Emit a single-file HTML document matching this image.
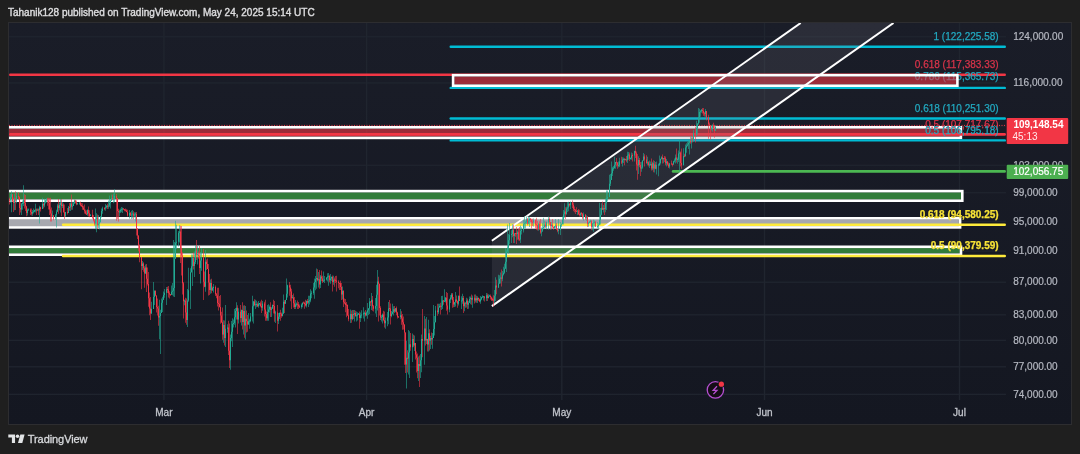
<!DOCTYPE html>
<html><head><meta charset="utf-8"><title>BTCUSD chart</title>
<style>html,body{margin:0;padding:0;background:#1f1f1f;overflow:hidden}svg{display:block}</style>
</head><body>
<svg width="1080" height="454" viewBox="0 0 1080 454">
<defs>
<linearGradient id="bg" x1="0" y1="0" x2="0" y2="1">
<stop offset="0" stop-color="#1a1d28"/><stop offset="1" stop-color="#141721"/>
</linearGradient>
<clipPath id="plot"><rect x="9" y="23" width="997" height="377"/></clipPath>
<clipPath id="chart"><rect x="9" y="23" width="1062" height="400"/></clipPath>
</defs>
<rect x="0" y="0" width="1080" height="454" fill="#1f1f1f"/>
<rect x="8.5" y="22.5" width="1063" height="402" fill="url(#bg)" stroke="#2d2d30" stroke-width="1"/>
<g fill="#20252f">
<rect x="9" y="36.10" width="997" height="1.3"/>
<rect x="9" y="82.30" width="997" height="1.3"/>
<rect x="9" y="125.41" width="997" height="1.3"/>
<rect x="9" y="164.63" width="997" height="1.3"/>
<rect x="9" y="192.07" width="997" height="1.3"/>
<rect x="9" y="220.64" width="997" height="1.3"/>
<rect x="9" y="250.44" width="997" height="1.3"/>
<rect x="9" y="281.57" width="997" height="1.3"/>
<rect x="9" y="314.18" width="997" height="1.3"/>
<rect x="9" y="339.68" width="997" height="1.3"/>
<rect x="9" y="366.15" width="997" height="1.3"/>
<rect x="9" y="393.68" width="997" height="1.3"/>
<rect x="163.20" y="23" width="1.4" height="377"/>
<rect x="365.90" y="23" width="1.4" height="377"/>
<rect x="561.10" y="23" width="1.4" height="377"/>
<rect x="763.80" y="23" width="1.4" height="377"/>
<rect x="958.80" y="23" width="1.4" height="377"/>
</g>
<g clip-path="url(#plot)">
<rect x="7.60" y="128.60" width="952.00" height="8.00" fill="rgba(242,54,69,0.6)"/>
<rect x="6.30" y="127.30" width="954.60" height="10.60" fill="none" stroke="#ffffff" stroke-width="2.6"/>
<line x1="10.20" y1="74.7" x2="1004.80" y2="74.7" stroke="#f23645" stroke-width="2.4" stroke-linecap="round"/>
<line x1="10.40" y1="134.4" x2="1004.60" y2="134.4" stroke="#f23645" stroke-width="2.8" stroke-linecap="round"/>
<line x1="450.70" y1="46.8" x2="1004.80" y2="46.8" stroke="#00bcd4" stroke-width="2.4" stroke-linecap="round"/>
<line x1="450.70" y1="87.9" x2="1004.80" y2="87.9" stroke="#00bcd4" stroke-width="2.4" stroke-linecap="round"/>
<line x1="450.70" y1="118.5" x2="1004.80" y2="118.5" stroke="#00bcd4" stroke-width="2.4" stroke-linecap="round"/>
<line x1="450.70" y1="140.4" x2="1004.80" y2="140.4" stroke="#00bcd4" stroke-width="2.4" stroke-linecap="round"/>
<text x="998.6" y="39.8" fill="#22a9c0" stroke="#22a9c0" stroke-width="0.25" text-anchor="end" font-family="Liberation Sans, sans-serif" font-size="10" font-weight="400">1 (122,225.58)</text>
<text x="998.6" y="67.5" fill="#d9344a" stroke="#d9344a" stroke-width="0.25" text-anchor="end" font-family="Liberation Sans, sans-serif" font-size="10" font-weight="400">0.618 (117,383.33)</text>
<text x="998.6" y="80.3" fill="#22a9c0" stroke="#22a9c0" stroke-width="0.25" text-anchor="end" font-family="Liberation Sans, sans-serif" font-size="10" font-weight="400">0.786 (115,365.73)</text>
<text x="998.6" y="111.6" fill="#22a9c0" stroke="#22a9c0" stroke-width="0.25" text-anchor="end" font-family="Liberation Sans, sans-serif" font-size="10" font-weight="400">0.618 (110,251.30)</text>
<text x="998.6" y="127.6" fill="#d9344a" stroke="#d9344a" stroke-width="0.25" text-anchor="end" font-family="Liberation Sans, sans-serif" font-size="10" font-weight="400">0.5 (107,717.67)</text>
<text x="998.6" y="133.6" fill="#22a9c0" stroke="#22a9c0" stroke-width="0.25" text-anchor="end" font-family="Liberation Sans, sans-serif" font-size="10" font-weight="400">0.5 (106,795.18)</text>
<rect x="454.40" y="76.50" width="501.70" height="7.90" fill="rgba(242,54,69,0.6)"/>
<rect x="7.60" y="192.40" width="953.40" height="7.00" fill="#327c3a"/>
<rect x="7.60" y="219.60" width="951.20" height="6.50" fill="#a7a8af"/>
<rect x="7.60" y="248.10" width="952.10" height="5.30" fill="#327c3a"/>
</g>
<g clip-path="url(#plot)">
<polygon points="491.9,240.7 800.7,23 893.5,23 491.9,306.1" fill="rgba(120,123,134,0.18)"/>
<rect x="453.10" y="75.20" width="504.30" height="10.50" fill="none" stroke="#ffffff" stroke-width="2.6"/>
<rect x="6.30" y="191.10" width="956.00" height="9.60" fill="none" stroke="#ffffff" stroke-width="2.6"/>
<rect x="6.30" y="218.30" width="953.80" height="9.10" fill="none" stroke="#ffffff" stroke-width="2.6"/>
<rect x="6.30" y="246.80" width="954.70" height="7.90" fill="none" stroke="#ffffff" stroke-width="2.6"/>
<line x1="63.10" y1="224.7" x2="1004.70" y2="224.7" stroke="#ffeb3b" stroke-width="2.6" stroke-linecap="round"/>
<line x1="63.00" y1="256.0" x2="1004.80" y2="256.0" stroke="#ffeb3b" stroke-width="2.4" stroke-linecap="round"/>
<text x="998.6" y="218.3" fill="#f7e236" stroke="#f7e236" stroke-width="0.25" text-anchor="end" font-family="Liberation Sans, sans-serif" font-size="10" font-weight="700">0.618 (94,580.25)</text>
<text x="998.6" y="249.3" fill="#f7e236" stroke="#f7e236" stroke-width="0.25" text-anchor="end" font-family="Liberation Sans, sans-serif" font-size="10" font-weight="700">0.5 (90,379.59)</text>
<line x1="9" y1="125.4" x2="1006" y2="125.4" stroke="#f23645" stroke-width="1" stroke-dasharray="1 1.5"/>
<line x1="673.20" y1="171.4" x2="1004.60" y2="171.4" stroke="#4cb852" stroke-width="2.8" stroke-linecap="round"/>
<line x1="491.9" y1="240.7" x2="800.7" y2="23" stroke="#ffffff" stroke-width="2"/>
<line x1="491.9" y1="306.1" x2="893.5" y2="23" stroke="#ffffff" stroke-width="2"/>
<path d="M10 194.0V202.8h1V194.0zM11 191.2V212.3h1V191.2zM14 193.7V210.2h1V193.7zM16 192.0V203.3h1V192.0zM21 203.3V215.0h1V203.3zM22 200.5V209.7h1V200.5zM23 185.3V206.1h1V185.3zM27 208.6V215.4h1V208.6zM28 208.4V210.2h1V208.4zM32 209.9V215.7h1V209.9zM33 208.4V213.4h1V208.4zM34 209.8V212.3h1V209.8zM35 203.8V212.5h1V203.8zM37 208.4V211.0h1V208.4zM39 205.7V223.6h1V205.7zM42 197.8V209.1h1V197.8zM44 198.8V207.2h1V198.8zM45 199.5V203.4h1V199.5zM46 198.0V202.4h1V198.0zM52 210.4V217.1h1V210.4zM55 214.1V220.0h1V214.1zM56 209.7V227.5h1V209.7zM57 203.7V211.8h1V203.7zM59 202.5V210.6h1V202.5zM60 199.0V212.4h1V199.0zM62 201.9V207.9h1V201.9zM65 212.0V216.6h1V212.0zM68 206.0V212.9h1V206.0zM70 202.2V211.0h1V202.2zM72 201.8V209.7h1V201.8zM73 201.7V206.0h1V201.7zM74 199.6V204.0h1V199.6zM77 202.8V204.7h1V202.8zM79 202.3V204.7h1V202.3zM87 209.3V215.7h1V209.3zM90 214.2V216.0h1V214.2zM95 208.4V229.3h1V208.4zM96 213.2V232.2h1V213.2zM98 215.0V228.0h1V215.0zM99 219.5V229.5h1V219.5zM100 216.4V222.3h1V216.4zM101 208.4V217.6h1V208.4zM102 206.7V213.7h1V206.7zM105 203.9V210.8h1V203.9zM106 205.1V208.4h1V205.1zM108 200.6V208.7h1V200.6zM109 195.4V207.1h1V195.4zM110 199.3V208.5h1V199.3zM111 194.6V201.1h1V194.6zM113 193.4V203.3h1V193.4zM114 189.2V202.3h1V189.2zM119 209.8V216.3h1V209.8zM120 208.4V213.0h1V208.4zM121 207.0V212.3h1V207.0zM122 207.6V213.0h1V207.6zM129 210.0V218.5h1V210.0zM131 210.8V218.9h1V210.8zM132 210.0V218.4h1V210.0zM134 212.2V217.6h1V212.2zM135 212.2V221.6h1V212.2zM142 261.0V269.9h1V261.0zM145 264.6V273.8h1V264.6zM151 301.7V313.7h1V301.7zM153 282.0V309.0h1V282.0zM154 290.2V305.0h1V290.2zM159 299.8V339.2h1V299.8zM160 309.7V354.0h1V309.7zM161 298.5V312.9h1V298.5zM162 296.7V312.0h1V296.7zM163 291.4V299.9h1V291.4zM164 289.0V297.8h1V289.0zM166 287.0V305.0h1V287.0zM171 285.5V294.8h1V285.5zM172 283.0V295.2h1V283.0zM173 240.0V296.4h1V240.0zM174 242.0V297.0h1V242.0zM175 220.8V258.8h1V220.8zM176 224.7V249.0h1V224.7zM178 231.0V246.5h1V231.0zM179 225.3V242.4h1V225.3zM184 299.5V305.2h1V299.5zM187 289.0V327.0h1V289.0zM188 267.7V301.8h1V267.7zM190 268.2V309.0h1V268.2zM191 254.6V272.5h1V254.6zM192 254.5V286.0h1V254.5zM194 251.6V277.0h1V251.6zM195 244.9V264.1h1V244.9zM197 246.1V264.5h1V246.1zM200 251.9V283.6h1V251.9zM201 248.2V270.7h1V248.2zM205 250.0V291.8h1V250.0zM210 279.5V293.8h1V279.5zM212 286.5V290.8h1V286.5zM213 284.0V292.4h1V284.0zM223 320.3V342.7h1V320.3zM225 305.0V347.0h1V305.0zM227 324.3V332.7h1V324.3zM230 334.6V369.8h1V334.6zM231 321.0V341.3h1V321.0zM232 318.3V347.0h1V318.3zM233 319.6V327.4h1V319.6zM234 309.0V324.8h1V309.0zM235 308.0V327.6h1V308.0zM236 302.3V319.6h1V302.3zM238 308.2V323.5h1V308.2zM241 309.6V325.4h1V309.6zM243 305.6V334.5h1V305.6zM245 306.0V339.4h1V306.0zM248 313.0V324.7h1V313.0zM249 318.8V328.8h1V318.8zM250 313.0V322.3h1V313.0zM252 295.7V321.6h1V295.7zM253 301.0V323.5h1V301.0zM255 299.7V309.0h1V299.7zM256 300.7V307.2h1V300.7zM258 300.9V307.7h1V300.9zM259 303.4V305.6h1V303.4zM262 301.1V310.7h1V301.1zM267 305.0V320.8h1V305.0zM268 304.2V320.8h1V304.2zM269 305.5V312.5h1V305.5zM271 306.9V317.0h1V306.9zM272 304.5V308.9h1V304.5zM275 310.7V323.1h1V310.7zM278 313.0V324.1h1V313.0zM279 312.7V319.0h1V312.7zM282 307.8V316.5h1V307.8zM283 294.4V313.9h1V294.4zM285 299.7V303.7h1V299.7zM286 278.5V300.0h1V278.5zM287 284.7V297.4h1V284.7zM292 295.1V298.2h1V295.1zM295 299.9V309.0h1V299.9zM296 302.6V306.5h1V302.6zM301 303.6V308.8h1V303.6zM302 302.3V307.3h1V302.3zM306 300.5V307.6h1V300.5zM308 295.8V307.0h1V295.8zM309 295.8V304.6h1V295.8zM310 289.3V302.3h1V289.3zM311 290.7V298.3h1V290.7zM313 283.0V294.8h1V283.0zM314 278.5V298.7h1V278.5zM315 276.0V290.2h1V276.0zM316 268.6V288.7h1V268.6zM318 272.1V287.6h1V272.1zM320 274.9V287.9h1V274.9zM323 271.5V281.9h1V271.5zM324 276.1V283.0h1V276.1zM326 276.9V280.5h1V276.9zM327 273.2V281.4h1V273.2zM328 272.9V285.8h1V272.9zM330 274.1V283.8h1V274.1zM331 276.4V281.1h1V276.4zM333 275.8V284.8h1V275.8zM342 286.5V299.5h1V286.5zM350 309.5V323.0h1V309.5zM352 310.0V320.2h1V310.0zM354 310.0V321.6h1V310.0zM356 311.4V321.5h1V311.4zM357 312.2V320.6h1V312.2zM358 312.9V315.0h1V312.9zM360 312.5V322.0h1V312.5zM361 310.2V318.3h1V310.2zM363 307.3V318.5h1V307.3zM364 311.5V321.6h1V311.5zM366 311.6V316.1h1V311.6zM367 303.0V318.7h1V303.0zM368 308.1V314.9h1V308.1zM369 297.9V314.1h1V297.9zM371 293.0V310.0h1V293.0zM375 297.9V313.6h1V297.9zM376 284.8V316.9h1V284.8zM377 270.0V310.4h1V270.0zM381 314.9V321.6h1V314.9zM382 313.4V323.6h1V313.4zM385 317.6V328.8h1V317.6zM387 312.1V326.3h1V312.1zM388 302.1V324.2h1V302.1zM391 310.9V317.2h1V310.9zM392 303.8V314.6h1V303.8zM393 306.2V315.6h1V306.2zM395 308.1V312.2h1V308.1zM400 309.0V319.2h1V309.0zM406 340.8V388.5h1V340.8zM408 330.0V374.5h1V330.0zM409 331.2V378.0h1V331.2zM412 333.6V362.0h1V333.6zM414 335.6V351.0h1V335.6zM418 356.4V381.0h1V356.4zM420 354.0V378.0h1V354.0zM421 334.4V372.2h1V334.4zM424 316.0V364.7h1V316.0zM426 317.0V344.0h1V317.0zM428 319.7V351.4h1V319.7zM430 335.8V349.1h1V335.8zM432 333.0V348.8h1V333.0zM433 305.0V337.9h1V305.0zM434 316.1V335.6h1V316.1zM435 305.9V322.3h1V305.9zM438 303.8V314.0h1V303.8zM439 303.8V307.6h1V303.8zM441 295.9V310.0h1V295.9zM442 295.7V309.0h1V295.7zM444 289.3V302.0h1V289.3zM445 297.0V302.5h1V297.0zM449 298.7V312.3h1V298.7zM450 294.9V302.9h1V294.9zM451 293.0V299.4h1V293.0zM454 302.1V306.9h1V302.1zM455 291.9V306.5h1V291.9zM458 295.7V305.6h1V295.7zM461 296.2V309.0h1V296.2zM462 293.8V303.8h1V293.8zM464 301.4V311.3h1V301.4zM466 297.7V307.6h1V297.7zM468 300.8V308.7h1V300.8zM469 296.4V302.9h1V296.4zM470 296.5V304.2h1V296.5zM472 295.5V307.8h1V295.5zM475 294.5V302.5h1V294.5zM477 296.3V303.0h1V296.3zM480 295.9V303.8h1V295.9zM481 296.7V300.2h1V296.7zM482 295.2V297.8h1V295.2zM483 295.9V300.5h1V295.9zM486 293.0V301.0h1V293.0zM488 294.2V298.4h1V294.2zM489 294.8V296.4h1V294.8zM494 289.9V303.2h1V289.9zM495 277.3V301.0h1V277.3zM498 274.7V287.9h1V274.7zM499 275.3V284.1h1V275.3zM500 272.4V283.4h1V272.4zM502 270.9V281.2h1V270.9zM503 266.7V275.4h1V266.7zM504 263.7V273.7h1V263.7zM505 248.0V269.0h1V248.0zM506 249.5V272.0h1V249.5zM507 224.4V252.7h1V224.4zM508 234.1V253.5h1V234.1zM509 223.0V244.3h1V223.0zM511 230.3V243.0h1V230.3zM512 224.3V237.3h1V224.3zM514 233.0V243.0h1V233.0zM517 230.6V239.7h1V230.6zM520 225.6V243.0h1V225.6zM521 227.3V234.6h1V227.3zM523 219.8V232.4h1V219.8zM524 216.5V228.6h1V216.5zM525 220.6V228.4h1V220.6zM526 216.5V224.0h1V216.5zM528 216.5V224.3h1V216.5zM529 217.3V227.0h1V217.3zM533 218.5V226.6h1V218.5zM538 222.7V230.7h1V222.7zM541 227.4V236.3h1V227.4zM542 222.7V231.6h1V222.7zM543 217.8V229.3h1V217.8zM544 220.8V228.6h1V220.8zM546 221.4V229.3h1V221.4zM548 216.5V229.7h1V216.5zM551 221.9V229.4h1V221.9zM554 226.0V228.9h1V226.0zM555 219.0V228.4h1V219.0zM558 219.0V234.3h1V219.0zM560 222.1V235.0h1V222.1zM561 223.3V227.1h1V223.3zM562 216.5V224.3h1V216.5zM563 210.0V224.4h1V210.0zM564 203.2V217.7h1V203.2zM566 206.7V214.5h1V206.7zM567 202.0V211.9h1V202.0zM568 201.7V211.2h1V201.7zM570 201.6V209.1h1V201.6zM577 210.3V215.1h1V210.3zM580 212.4V216.5h1V212.4zM583 212.5V220.4h1V212.5zM586 215.2V220.9h1V215.2zM588 222.3V226.8h1V222.3zM589 221.1V222.9h1V221.1zM590 219.7V222.3h1V219.7zM592 223.2V230.3h1V223.2zM593 219.7V231.8h1V219.7zM594 220.4V226.4h1V220.4zM597 222.0V228.2h1V222.0zM598 223.1V229.4h1V223.1zM599 202.7V224.8h1V202.7zM600 208.1V224.5h1V208.1zM601 203.3V215.3h1V203.3zM603 205.0V212.4h1V205.0zM605 198.4V212.2h1V198.4zM606 190.6V210.0h1V190.6zM607 190.6V201.4h1V190.6zM609 174.8V197.1h1V174.8zM610 173.9V186.0h1V173.9zM611 161.5V179.9h1V161.5zM612 166.7V176.0h1V166.7zM613 165.9V170.7h1V165.9zM614 156.7V168.8h1V156.7zM615 162.1V168.8h1V162.1zM618 161.4V167.6h1V161.4zM619 157.7V167.0h1V157.7zM622 157.3V166.4h1V157.3zM623 157.5V162.9h1V157.5zM625 158.7V160.5h1V158.7zM627 151.8V163.0h1V151.8zM628 152.0V159.7h1V152.0zM630 157.5V159.6h1V157.5zM631 152.5V159.8h1V152.5zM634 150.8V161.5h1V150.8zM638 156.2V174.0h1V156.2zM641 161.8V171.8h1V161.8zM642 160.4V168.8h1V160.4zM643 153.0V160.9h1V153.0zM647 156.7V165.2h1V156.7zM649 160.6V167.9h1V160.6zM650 161.6V165.8h1V161.6zM652 161.8V170.3h1V161.8zM654 161.1V172.5h1V161.1zM656 161.5V174.4h1V161.5zM658 163.5V176.3h1V163.5zM659 155.5V166.0h1V155.5zM660 158.4V164.4h1V158.4zM661 156.2V159.5h1V156.2zM663 157.9V163.2h1V157.9zM666 158.9V166.4h1V158.9zM669 163.0V168.4h1V163.0zM673 160.7V164.7h1V160.7zM674 158.5V162.5h1V158.5zM675 154.6V163.5h1V154.6zM677 157.5V163.7h1V157.5zM678 150.4V161.9h1V150.4zM679 139.6V171.4h1V139.6zM683 148.3V165.3h1V148.3zM685 144.6V156.5h1V144.6zM686 143.3V152.7h1V143.3zM687 141.7V146.6h1V141.7zM688 140.2V148.9h1V140.2zM689 140.5V154.5h1V140.5zM691 135.9V148.6h1V135.9zM693 129.8V141.8h1V129.8zM696 120.8V136.8h1V120.8zM697 123.5V134.7h1V123.5zM698 107.9V124.8h1V107.9zM699 108.7V122.8h1V108.7zM700 109.9V116.8h1V109.9zM701 109.1V112.8h1V109.1zM705 108.9V116.8h1V108.9zM711 125.6V130.3h1V125.6zM712 124.2V131.4h1V124.2zM715 125.0V131.0h1V125.0z" fill="#22ab94" fill-opacity="0.6"/>
<path d="M9 197.8V204.4h1V197.8zM12 194.2V202.0h1V194.2zM13 197.5V212.0h1V197.5zM15 191.2V210.0h1V191.2zM18 192.5V199.8h1V192.5zM19 196.8V215.0h1V196.8zM20 201.8V212.4h1V201.8zM24 194.3V208.4h1V194.3zM25 195.0V211.1h1V195.0zM26 205.7V216.3h1V205.7zM30 208.4V215.0h1V208.4zM31 208.4V215.6h1V208.4zM36 208.4V215.0h1V208.4zM38 208.4V215.1h1V208.4zM40 206.8V211.6h1V206.8zM43 202.6V208.4h1V202.6zM47 197.8V205.7h1V197.8zM48 197.8V209.4h1V197.8zM49 198.1V215.1h1V198.1zM50 197.8V221.4h1V197.8zM51 207.4V221.6h1V207.4zM53 215.1V220.3h1V215.1zM58 199.0V213.7h1V199.0zM61 199.0V216.3h1V199.0zM63 203.3V212.4h1V203.3zM64 204.4V219.0h1V204.4zM67 207.9V214.4h1V207.9zM69 203.0V210.8h1V203.0zM71 194.5V209.7h1V194.5zM75 199.8V203.4h1V199.8zM76 200.4V205.2h1V200.4zM80 201.6V206.3h1V201.6zM81 203.1V207.0h1V203.1zM82 203.2V209.8h1V203.2zM83 205.7V210.0h1V205.7zM84 204.4V213.5h1V204.4zM85 209.6V214.3h1V209.6zM86 210.2V215.0h1V210.2zM88 206.4V216.4h1V206.4zM89 210.3V217.2h1V210.3zM92 209.7V218.7h1V209.7zM93 215.0V221.6h1V215.0zM94 218.9V225.5h1V218.9zM97 214.5V228.9h1V214.5zM104 207.3V210.2h1V207.3zM107 203.7V208.9h1V203.7zM112 194.6V200.3h1V194.6zM116 193.9V220.8h1V193.9zM117 198.2V219.0h1V198.2zM118 208.7V221.6h1V208.7zM123 208.3V209.8h1V208.3zM124 209.1V211.2h1V209.1zM125 208.5V211.6h1V208.5zM126 209.2V212.3h1V209.2zM127 209.7V216.5h1V209.7zM130 212.0V216.1h1V212.0zM133 211.3V219.3h1V211.3zM136 212.0V235.4h1V212.0zM137 228.4V238.9h1V228.4zM138 235.5V251.3h1V235.5zM139 244.8V262.3h1V244.8zM141 256.9V289.3h1V256.9zM143 262.2V271.7h1V262.2zM144 266.2V287.8h1V266.2zM146 264.0V292.0h1V264.0zM147 267.6V285.6h1V267.6zM148 272.0V306.8h1V272.0zM149 292.6V315.3h1V292.6zM150 297.0V320.0h1V297.0zM155 290.2V296.2h1V290.2zM156 295.4V312.4h1V295.4zM157 298.5V315.4h1V298.5zM158 305.7V325.8h1V305.7zM167 286.7V293.1h1V286.7zM168 286.0V297.5h1V286.0zM169 291.3V298.5h1V291.3zM170 293.9V295.7h1V293.9zM180 225.7V263.0h1V225.7zM181 226.0V275.6h1V226.0zM182 252.3V294.5h1V252.3zM183 282.0V318.5h1V282.0zM185 297.8V322.7h1V297.8zM186 298.5V324.7h1V298.5zM193 252.4V269.4h1V252.4zM196 240.0V260.0h1V240.0zM198 251.4V258.7h1V251.4zM199 246.0V274.1h1V246.0zM203 249.0V300.0h1V249.0zM204 271.6V287.3h1V271.6zM206 259.4V270.0h1V259.4zM207 258.4V269.1h1V258.4zM208 264.0V295.5h1V264.0zM209 274.0V295.0h1V274.0zM211 278.8V293.2h1V278.8zM215 285.5V295.9h1V285.5zM216 292.9V298.2h1V292.9zM217 287.8V306.4h1V287.8zM218 287.8V310.6h1V287.8zM219 296.1V307.6h1V296.1zM220 295.0V323.8h1V295.0zM221 311.8V322.9h1V311.8zM222 307.6V339.8h1V307.6zM224 320.4V345.5h1V320.4zM228 320.8V355.0h1V320.8zM229 323.5V368.1h1V323.5zM237 305.2V334.0h1V305.2zM240 305.0V322.4h1V305.0zM242 302.3V329.6h1V302.3zM244 305.2V337.7h1V305.2zM246 310.6V332.4h1V310.6zM247 315.0V331.8h1V315.0zM254 299.3V306.3h1V299.3zM257 302.6V307.0h1V302.6zM260 301.6V307.2h1V301.6zM261 299.7V313.0h1V299.7zM264 301.8V316.4h1V301.8zM265 299.7V320.8h1V299.7zM266 311.4V320.8h1V311.4zM270 302.3V316.9h1V302.3zM273 299.7V313.4h1V299.7zM274 301.1V321.7h1V301.1zM277 305.0V331.4h1V305.0zM280 309.7V320.8h1V309.7zM281 312.5V317.8h1V312.5zM284 300.1V313.0h1V300.1zM289 282.0V295.7h1V282.0zM290 284.7V301.2h1V284.7zM291 288.7V309.0h1V288.7zM293 293.4V307.6h1V293.4zM294 297.0V309.0h1V297.0zM297 300.4V309.0h1V300.4zM298 301.9V309.0h1V301.9zM299 304.4V308.1h1V304.4zM303 301.5V303.1h1V301.5zM304 301.8V308.7h1V301.8zM305 299.8V306.6h1V299.8zM307 298.9V303.9h1V298.9zM317 269.2V281.2h1V269.2zM319 270.0V288.7h1V270.0zM321 270.6V281.2h1V270.6zM322 275.7V283.0h1V275.7zM329 274.8V282.2h1V274.8zM332 275.5V291.5h1V275.5zM334 277.6V286.8h1V277.6zM335 276.1V283.0h1V276.1zM336 275.8V291.5h1V275.8zM338 280.3V288.3h1V280.3zM339 283.0V289.9h1V283.0zM340 280.8V290.0h1V280.8zM341 283.0V300.0h1V283.0zM343 290.6V307.1h1V290.6zM344 298.4V304.2h1V298.4zM345 299.0V312.3h1V299.0zM346 302.0V317.3h1V302.0zM347 304.5V316.1h1V304.5zM348 308.9V321.3h1V308.9zM351 310.4V322.7h1V310.4zM353 310.0V319.1h1V310.0zM355 310.8V316.7h1V310.8zM359 311.6V328.8h1V311.6zM365 309.9V316.4h1V309.9zM370 301.2V306.0h1V301.2zM372 295.9V310.8h1V295.9zM373 305.1V311.6h1V305.1zM378 276.8V321.6h1V276.8zM379 283.8V315.5h1V283.8zM380 306.2V320.0h1V306.2zM383 310.7V321.2h1V310.7zM384 311.6V327.5h1V311.6zM389 300.0V311.3h1V300.0zM390 303.6V324.5h1V303.6zM394 306.0V313.0h1V306.0zM396 306.5V315.2h1V306.5zM397 311.7V318.4h1V311.7zM398 316.3V317.5h1V316.3zM401 311.3V324.7h1V311.3zM402 314.0V329.7h1V314.0zM403 316.6V329.5h1V316.6zM404 324.5V364.7h1V324.5zM405 332.6V373.0h1V332.6zM407 350.2V372.6h1V350.2zM410 333.0V350.7h1V333.0zM413 334.7V347.3h1V334.7zM415 342.9V359.4h1V342.9zM416 351.4V372.6h1V351.4zM417 353.5V378.2h1V353.5zM419 355.4V387.0h1V355.4zM422 309.0V357.2h1V309.0zM425 318.7V345.6h1V318.7zM427 338.8V351.4h1V338.8zM429 329.2V350.6h1V329.2zM431 332.5V344.8h1V332.5zM437 303.8V315.7h1V303.8zM440 302.7V314.4h1V302.7zM443 300.1V304.7h1V300.1zM446 292.0V310.8h1V292.0zM447 293.0V314.4h1V293.0zM452 292.9V307.8h1V292.9zM453 296.9V307.3h1V296.9zM456 295.6V302.8h1V295.6zM457 300.4V307.8h1V300.4zM459 286.6V301.1h1V286.6zM463 295.9V313.0h1V295.9zM465 302.2V307.8h1V302.2zM467 298.4V309.0h1V298.4zM471 294.5V304.8h1V294.5zM474 294.5V303.4h1V294.5zM476 295.8V302.7h1V295.8zM478 297.4V301.0h1V297.4zM479 298.5V302.3h1V298.5zM484 296.2V301.5h1V296.2zM487 293.4V301.0h1V293.4zM490 294.5V299.4h1V294.5zM491 296.4V301.0h1V296.4zM492 297.7V301.0h1V297.7zM493 295.2V306.4h1V295.2zM496 279.8V294.3h1V279.8zM501 269.4V286.6h1V269.4zM513 224.4V243.1h1V224.4zM515 233.3V236.8h1V233.3zM516 227.0V244.0h1V227.0zM518 228.4V240.5h1V228.4zM519 227.0V241.0h1V227.0zM527 218.0V225.3h1V218.0zM530 218.0V222.1h1V218.0zM531 218.7V228.4h1V218.7zM532 218.8V226.1h1V218.8zM535 219.5V228.6h1V219.5zM536 217.8V229.7h1V217.8zM537 221.1V230.6h1V221.1zM539 221.2V230.1h1V221.2zM540 219.0V233.8h1V219.0zM545 221.6V227.9h1V221.6zM549 217.2V225.1h1V217.2zM550 222.0V229.7h1V222.0zM552 219.0V228.8h1V219.0zM553 226.4V229.7h1V226.4zM556 223.1V230.0h1V223.1zM557 228.5V232.2h1V228.5zM565 207.3V219.0h1V207.3zM569 203.6V206.6h1V203.6zM572 200.6V208.0h1V200.6zM573 202.4V211.3h1V202.4zM574 206.4V212.2h1V206.4zM575 209.1V214.0h1V209.1zM576 207.2V212.0h1V207.2zM578 208.9V215.0h1V208.9zM579 209.8V216.4h1V209.8zM581 211.9V215.7h1V211.9zM582 213.5V219.3h1V213.5zM585 213.9V220.0h1V213.9zM587 216.0V227.0h1V216.0zM591 220.4V230.2h1V220.4zM595 221.2V227.0h1V221.2zM602 201.5V210.0h1V201.5zM604 202.7V215.0h1V202.7zM616 157.9V166.5h1V157.9zM617 162.2V168.8h1V162.2zM621 156.7V164.0h1V156.7zM624 157.9V165.2h1V157.9zM626 156.1V162.2h1V156.1zM629 152.4V160.9h1V152.4zM632 153.3V161.5h1V153.3zM635 145.8V158.1h1V145.8zM636 151.6V170.5h1V151.6zM637 154.0V179.7h1V154.0zM639 158.1V167.3h1V158.1zM640 162.0V176.0h1V162.0zM644 154.2V166.4h1V154.2zM646 155.3V163.6h1V155.3zM648 161.2V166.4h1V161.2zM651 158.5V170.4h1V158.5zM653 160.3V172.2h1V160.3zM655 162.0V169.2h1V162.0zM662 154.5V163.5h1V154.5zM664 155.9V162.0h1V155.9zM665 156.5V165.2h1V156.5zM667 161.1V165.6h1V161.1zM668 162.5V168.1h1V162.5zM671 160.5V164.6h1V160.5zM672 163.6V166.4h1V163.6zM676 148.6V162.6h1V148.6zM680 151.5V166.4h1V151.5zM681 148.6V168.7h1V148.6zM684 153.8V157.2h1V153.8zM690 136.7V143.8h1V136.7zM692 134.7V142.6h1V134.7zM695 126.7V142.6h1V126.7zM702 107.9V113.5h1V107.9zM703 108.1V115.8h1V108.1zM704 112.0V116.4h1V112.0zM706 111.1V120.5h1V111.1zM708 114.8V138.7h1V114.8zM709 122.6V126.1h1V122.6zM710 125.2V139.6h1V125.2zM713 122.8V128.9h1V122.8zM714 125.2V137.7h1V125.2z" fill="#f23645" fill-opacity="0.6"/>
<path d="M10 196.7V200.3h1V196.7zM11 194.2V196.7h1V194.2zM14 198.4V203.0h1V198.4zM16 196.1V200.6h1V196.1zM21 203.5V209.4h1V203.5zM22 203.0V204.0h1V203.0zM23 199.8V203.4h1V199.8zM27 210.0V213.0h1V210.0zM28 209.4V210.4h1V209.4zM32 211.9V213.7h1V211.9zM33 211.3V212.3h1V211.3zM34 210.0V211.7h1V210.0zM35 209.5V210.5h1V209.5zM37 209.6V210.6h1V209.6zM39 207.3V210.3h1V207.3zM42 203.9V209.1h1V203.9zM44 202.5V205.4h1V202.5zM45 200.2V202.5h1V200.2zM46 199.5V200.5h1V199.5zM52 215.4V216.6h1V215.4zM55 215.2V217.6h1V215.2zM56 211.7V215.2h1V211.7zM57 205.6V211.7h1V205.6zM59 204.9V208.0h1V204.9zM60 202.5V204.9h1V202.5zM62 204.4V206.0h1V204.4zM65 212.1V216.4h1V212.1zM68 207.4V212.9h1V207.4zM70 203.4V207.6h1V203.4zM72 205.8V206.8h1V205.8zM73 203.2V205.9h1V203.2zM74 200.4V203.2h1V200.4zM77 203.2V204.2h1V203.2zM79 202.5V203.5h1V202.5zM87 209.9V214.3h1V209.9zM90 214.7V215.9h1V214.7zM95 219.2V223.5h1V219.2zM96 217.3V219.2h1V217.3zM98 223.5V225.3h1V223.5zM99 222.3V223.5h1V222.3zM100 216.5V222.3h1V216.5zM101 211.0V216.5h1V211.0zM102 208.4V211.0h1V208.4zM105 207.3V208.5h1V207.3zM106 206.1V207.3h1V206.1zM108 205.4V206.4h1V205.4zM109 203.0V205.6h1V203.0zM110 201.1V203.0h1V201.1zM111 198.1V201.1h1V198.1zM113 198.5V199.5h1V198.5zM114 195.9V198.7h1V195.9zM119 211.4V212.4h1V211.4zM120 210.1V211.6h1V210.1zM121 209.2V210.2h1V209.2zM122 208.5V209.5h1V208.5zM129 213.1V215.4h1V213.1zM131 214.5V215.6h1V214.5zM132 213.5V214.5h1V213.5zM134 214.2V215.8h1V214.2zM135 213.6V214.6h1V213.6zM142 263.5V265.9h1V263.5zM145 267.6V273.6h1V267.6zM151 309.0V313.4h1V309.0zM153 297.1V309.0h1V297.1zM154 290.9V297.1h1V290.9zM159 315.9V317.6h1V315.9zM160 312.9V315.9h1V312.9zM161 302.8V312.9h1V302.8zM162 299.8V302.8h1V299.8zM163 295.0V299.8h1V295.0zM164 292.7V295.0h1V292.7zM166 289.3V292.7h1V289.3zM171 291.8V294.8h1V291.8zM172 290.7V291.8h1V290.7zM173 287.9V290.7h1V287.9zM174 258.8V287.9h1V258.8zM175 242.8V258.8h1V242.8zM176 241.8V242.8h1V241.8zM178 232.7V241.8h1V232.7zM179 231.6V232.7h1V231.6zM184 300.5V301.5h1V300.5zM187 300.4V320.1h1V300.4zM188 290.3V300.4h1V290.3zM190 272.3V290.3h1V272.3zM191 266.3V272.3h1V266.3zM192 258.1V266.3h1V258.1zM194 262.1V265.9h1V262.1zM195 250.6V262.1h1V250.6zM197 254.1V255.1h1V254.1zM200 260.5V268.1h1V260.5zM201 257.8V260.5h1V257.8zM205 261.8V286.8h1V261.8zM210 283.1V290.1h1V283.1zM212 287.9V290.5h1V287.9zM213 286.9V287.9h1V286.9zM223 325.1V334.4h1V325.1zM225 328.8V338.1h1V328.8zM227 327.4V328.8h1V327.4zM230 338.1V360.3h1V338.1zM231 331.8V338.1h1V331.8zM232 324.1V331.8h1V324.1zM233 322.9V324.1h1V322.9zM234 317.3V322.9h1V317.3zM235 310.9V317.3h1V310.9zM236 307.7V310.9h1V307.7zM238 311.8V319.5h1V311.8zM241 309.9V318.0h1V309.9zM243 311.1V322.0h1V311.1zM245 318.7V325.4h1V318.7zM248 321.3V324.4h1V321.3zM249 320.6V321.6h1V320.6zM250 316.4V320.9h1V316.4zM252 306.2V316.4h1V306.2zM253 301.6V306.2h1V301.6zM255 304.3V305.3h1V304.3zM256 304.0V305.0h1V304.0zM258 303.8V306.2h1V303.8zM259 303.1V304.1h1V303.1zM262 303.5V307.8h1V303.5zM267 312.0V318.3h1V312.0zM268 309.6V312.0h1V309.6zM269 307.0V309.6h1V307.0zM271 308.4V310.1h1V308.4zM272 304.9V308.4h1V304.9zM275 312.5V313.5h1V312.5zM278 316.8V320.8h1V316.8zM279 312.8V316.8h1V312.8zM282 313.4V315.9h1V313.4zM283 301.7V313.4h1V301.7zM285 300.0V303.7h1V300.0zM286 293.8V300.0h1V293.8zM287 285.2V293.8h1V285.2zM292 297.3V298.3h1V297.3zM295 304.6V306.9h1V304.6zM296 303.7V304.7h1V303.7zM301 304.8V306.9h1V304.8zM302 303.0V304.8h1V303.0zM306 301.0V305.6h1V301.0zM308 301.0V302.8h1V301.0zM309 300.2V301.2h1V300.2zM310 293.5V300.5h1V293.5zM311 292.8V293.8h1V292.8zM313 287.6V293.1h1V287.6zM314 282.0V287.6h1V282.0zM315 279.3V282.0h1V279.3zM316 278.1V279.3h1V278.1zM318 279.2V280.3h1V279.2zM320 276.4V284.4h1V276.4zM323 280.5V281.5h1V280.5zM324 279.4V280.7h1V279.4zM326 277.7V279.4h1V277.7zM327 276.5V277.7h1V276.5zM328 275.7V276.7h1V275.7zM330 278.5V280.3h1V278.5zM331 277.0V278.5h1V277.0zM333 279.7V281.9h1V279.7zM342 290.8V294.6h1V290.8zM350 314.0V319.3h1V314.0zM352 314.3V319.0h1V314.3zM354 313.0V314.6h1V313.0zM356 315.3V316.3h1V315.3zM357 314.2V315.6h1V314.2zM358 313.6V314.6h1V313.6zM360 315.3V318.1h1V315.3zM361 314.4V315.4h1V314.4zM363 313.3V314.5h1V313.3zM364 312.7V313.7h1V312.7zM366 312.4V315.2h1V312.4zM367 310.3V312.4h1V310.3zM368 308.4V310.3h1V308.4zM369 301.6V308.4h1V301.6zM371 299.8V302.2h1V299.8zM375 306.0V308.7h1V306.0zM376 294.8V306.0h1V294.8zM377 281.5V294.8h1V281.5zM381 316.8V317.8h1V316.8zM382 314.5V317.0h1V314.5zM385 320.8V323.2h1V320.8zM387 317.6V320.8h1V317.6zM388 308.5V317.6h1V308.5zM391 313.8V316.0h1V313.8zM392 311.9V313.8h1V311.9zM393 309.3V311.9h1V309.3zM395 308.3V311.4h1V308.3zM400 315.2V317.0h1V315.2zM406 357.7V364.4h1V357.7zM408 352.4V358.6h1V352.4zM409 344.3V352.4h1V344.3zM412 339.1V347.3h1V339.1zM414 342.9V345.6h1V342.9zM418 363.9V371.1h1V363.9zM420 360.2V366.1h1V360.2zM421 339.1V360.2h1V339.1zM424 328.5V340.8h1V328.5zM426 339.1V340.6h1V339.1zM428 333.2V344.6h1V333.2zM430 338.0V340.8h1V338.0zM432 337.9V339.5h1V337.9zM433 329.0V337.9h1V329.0zM434 322.3V329.0h1V322.3zM435 310.5V322.3h1V310.5zM438 307.4V312.3h1V307.4zM439 306.0V307.4h1V306.0zM441 305.7V306.7h1V305.7zM442 300.5V305.7h1V300.5zM444 300.8V301.8h1V300.8zM445 297.8V301.2h1V297.8zM449 299.6V309.5h1V299.6zM450 297.4V299.6h1V297.4zM451 294.6V297.4h1V294.6zM454 302.3V304.4h1V302.3zM455 299.6V302.3h1V299.6zM458 295.7V303.8h1V295.7zM461 300.4V301.4h1V300.4zM462 298.1V300.8h1V298.1zM464 302.9V306.2h1V302.9zM466 300.4V303.7h1V300.4zM468 302.8V304.7h1V302.8zM469 299.0V302.8h1V299.0zM470 298.0V299.0h1V298.0zM472 297.8V299.7h1V297.8zM475 298.2V300.4h1V298.2zM477 297.9V300.3h1V297.9zM480 299.3V301.6h1V299.3zM481 297.2V299.3h1V297.2zM482 296.6V297.6h1V296.6zM483 296.3V297.3h1V296.3zM486 295.2V298.2h1V295.2zM488 296.3V298.1h1V296.3zM489 295.6V296.6h1V295.6zM494 295.8V300.8h1V295.8zM495 285.5V295.8h1V285.5zM498 283.5V287.5h1V283.5zM499 278.7V283.5h1V278.7zM500 277.6V278.7h1V277.6zM502 274.6V278.7h1V274.6zM503 272.7V274.6h1V272.7zM504 268.6V272.7h1V268.6zM505 261.8V268.6h1V261.8zM506 251.4V261.8h1V251.4zM507 247.7V251.4h1V247.7zM508 240.2V247.7h1V240.2zM509 235.0V240.2h1V235.0zM511 233.9V235.0h1V233.9zM512 230.1V233.9h1V230.1zM514 233.4V235.9h1V233.4zM517 232.3V234.1h1V232.3zM520 231.0V239.5h1V231.0zM521 230.1V231.1h1V230.1zM523 224.2V230.3h1V224.2zM524 223.3V224.3h1V223.3zM525 222.2V223.3h1V222.2zM526 219.3V222.2h1V219.3zM528 220.7V223.4h1V220.7zM529 218.7V220.7h1V218.7zM533 220.2V222.3h1V220.2zM538 223.7V229.1h1V223.7zM541 231.5V232.5h1V231.5zM542 228.0V231.6h1V228.0zM543 227.0V228.0h1V227.0zM544 224.5V227.1h1V224.5zM546 222.2V226.5h1V222.2zM548 219.0V222.2h1V219.0zM551 224.7V226.1h1V224.7zM554 226.1V228.0h1V226.1zM555 225.4V226.4h1V225.4zM558 229.9V230.9h1V229.9zM560 225.0V230.0h1V225.0zM561 224.2V225.2h1V224.2zM562 219.7V224.3h1V219.7zM563 214.3V219.7h1V214.3zM564 211.5V214.3h1V211.5zM566 208.4V214.2h1V208.4zM567 207.5V208.5h1V207.5zM568 203.8V207.6h1V203.8zM570 202.4V205.3h1V202.4zM577 210.4V211.6h1V210.4zM580 213.3V214.9h1V213.3zM583 214.7V217.3h1V214.7zM586 217.0V218.2h1V217.0zM588 222.8V223.8h1V222.8zM589 221.8V222.8h1V221.8zM590 220.8V221.8h1V220.8zM592 223.3V226.7h1V223.3zM593 222.6V223.6h1V222.6zM594 221.7V222.9h1V221.7zM597 226.0V227.0h1V226.0zM598 224.7V226.3h1V224.7zM599 220.0V224.7h1V220.0zM600 214.8V220.0h1V214.8zM601 207.7V214.8h1V207.7zM603 208.1V209.7h1V208.1zM605 203.2V209.3h1V203.2zM606 198.6V203.2h1V198.6zM607 197.1V198.6h1V197.1zM609 183.8V197.1h1V183.8zM610 179.9V183.8h1V179.9zM611 173.3V179.9h1V173.3zM612 168.6V173.3h1V168.6zM613 167.8V168.8h1V167.8zM614 164.8V168.0h1V164.8zM615 162.1V164.8h1V162.1zM618 164.9V165.9h1V164.9zM619 161.5V165.4h1V161.5zM622 159.5V162.5h1V159.5zM623 158.9V159.9h1V158.9zM625 159.0V160.0h1V159.0zM627 155.5V160.3h1V155.5zM628 154.5V155.5h1V154.5zM630 158.1V159.1h1V158.1zM631 155.4V158.3h1V155.4zM634 151.1V155.5h1V151.1zM638 160.1V165.5h1V160.1zM641 167.5V168.6h1V167.5zM642 160.6V167.5h1V160.6zM643 156.6V160.6h1V156.6zM647 162.3V163.3h1V162.3zM649 164.5V165.5h1V164.5zM650 163.9V165.0h1V163.9zM652 163.2V168.4h1V163.2zM654 164.5V168.5h1V164.5zM656 165.1V168.8h1V165.1zM658 164.6V165.6h1V164.6zM659 163.0V165.1h1V163.0zM660 158.9V163.0h1V158.9zM661 157.2V158.9h1V157.2zM663 158.0V159.3h1V158.0zM666 161.4V163.2h1V161.4zM669 163.5V166.5h1V163.5zM673 161.3V164.5h1V161.3zM674 160.4V161.4h1V160.4zM675 157.4V160.4h1V157.4zM677 158.9V159.9h1V158.9zM678 153.6V159.4h1V153.6zM679 152.6V153.6h1V152.6zM683 156.0V165.3h1V156.0zM685 147.5V156.3h1V147.5zM686 145.7V147.5h1V145.7zM687 144.5V145.7h1V144.5zM688 142.8V144.5h1V142.8zM689 141.0V142.8h1V141.0zM691 138.6V142.3h1V138.6zM693 133.2V139.5h1V133.2zM696 128.3V134.5h1V128.3zM697 123.6V128.3h1V123.6zM698 117.0V123.6h1V117.0zM699 112.1V117.0h1V112.1zM700 111.2V112.2h1V111.2zM701 109.7V111.3h1V109.7zM705 111.1V114.0h1V111.1zM711 127.8V129.1h1V127.8zM712 125.2V127.8h1V125.2zM715 126.9V130.7h1V126.9z" fill="#22ab94"/>
<path d="M9 199.8V200.8h1V199.8zM12 194.2V201.4h1V194.2zM13 201.4V203.0h1V201.4zM15 198.4V200.6h1V198.4zM18 196.0V197.0h1V196.0zM19 196.8V208.1h1V196.8zM20 208.1V209.4h1V208.1zM24 199.8V203.1h1V199.8zM25 203.1V206.5h1V203.1zM26 206.5V213.0h1V206.5zM30 209.8V212.0h1V209.8zM31 212.0V213.7h1V212.0zM36 209.6V210.6h1V209.6zM38 209.6V210.6h1V209.6zM40 207.3V209.1h1V207.3zM43 203.9V205.4h1V203.9zM47 199.6V200.6h1V199.6zM48 200.4V202.9h1V200.4zM49 202.9V209.4h1V202.9zM50 209.4V213.6h1V209.4zM51 213.6V216.6h1V213.6zM53 215.4V217.6h1V215.4zM58 205.6V208.0h1V205.6zM61 202.5V206.0h1V202.5zM63 204.4V212.2h1V204.4zM64 212.2V216.4h1V212.2zM67 212.0V213.0h1V212.0zM69 207.0V208.0h1V207.0zM71 203.4V206.6h1V203.4zM75 200.4V202.4h1V200.4zM76 202.4V204.2h1V202.4zM80 202.7V205.2h1V202.7zM81 205.1V206.1h1V205.1zM82 206.1V207.5h1V206.1zM83 207.5V209.4h1V207.5zM84 209.4V211.3h1V209.4zM85 211.3V213.4h1V211.3zM86 213.4V214.4h1V213.4zM88 209.9V213.2h1V209.9zM89 213.2V215.9h1V213.2zM92 214.7V217.4h1V214.7zM93 217.4V220.5h1V217.4zM94 220.5V223.5h1V220.5zM97 217.3V225.3h1V217.3zM104 207.9V208.9h1V207.9zM107 205.7V206.7h1V205.7zM112 198.1V199.4h1V198.1zM116 195.9V198.2h1V195.9zM117 198.2V211.0h1V198.2zM118 211.0V212.2h1V211.0zM123 208.4V209.4h1V208.4zM124 209.2V210.3h1V209.2zM125 209.8V210.8h1V209.8zM126 210.4V212.1h1V210.4zM127 212.1V215.4h1V212.1zM130 213.1V215.6h1V213.1zM133 213.5V215.8h1V213.5zM136 214.0V228.4h1V214.0zM137 228.4V235.5h1V228.4zM138 235.5V244.8h1V235.5zM139 244.8V256.9h1V244.8zM141 256.9V265.9h1V256.9zM143 263.5V268.3h1V263.5zM144 268.3V273.6h1V268.3zM146 267.6V278.8h1V267.6zM147 278.8V284.0h1V278.8zM148 284.0V298.3h1V284.0zM149 298.3V308.5h1V298.3zM150 308.5V313.4h1V308.5zM155 290.9V295.4h1V290.9zM156 295.4V307.0h1V295.4zM157 307.0V308.6h1V307.0zM158 308.6V317.6h1V308.6zM167 288.9V289.9h1V288.9zM168 289.5V293.3h1V289.5zM169 293.3V294.6h1V293.3zM170 294.2V295.2h1V294.2zM180 231.6V248.1h1V231.6zM181 248.1V255.4h1V248.1zM182 255.4V283.2h1V255.4zM183 283.2V301.2h1V283.2zM185 300.7V312.5h1V300.7zM186 312.5V320.1h1V312.5zM193 258.1V265.9h1V258.1zM196 250.6V254.8h1V250.6zM198 254.4V256.3h1V254.4zM199 256.3V268.1h1V256.3zM203 257.8V281.7h1V257.8zM204 281.7V286.8h1V281.7zM206 261.8V264.1h1V261.8zM207 264.1V269.1h1V264.1zM208 269.1V282.4h1V269.1zM209 282.4V290.1h1V282.4zM211 283.1V290.5h1V283.1zM215 286.9V294.3h1V286.9zM216 294.3V295.5h1V294.3zM217 295.5V302.9h1V295.5zM218 302.9V303.9h1V302.9zM219 303.9V307.1h1V303.9zM220 307.1V315.6h1V307.1zM221 315.6V322.3h1V315.6zM222 322.3V334.4h1V322.3zM224 325.1V338.1h1V325.1zM228 327.4V350.8h1V327.4zM229 350.8V360.3h1V350.8zM237 307.7V319.5h1V307.7zM240 311.8V318.0h1V311.8zM242 309.9V322.0h1V309.9zM244 311.1V325.4h1V311.1zM246 318.7V321.2h1V318.7zM247 321.2V324.4h1V321.2zM254 301.6V304.9h1V301.6zM257 304.3V306.2h1V304.3zM260 303.5V306.0h1V303.5zM261 306.0V307.8h1V306.0zM264 303.5V309.6h1V303.5zM265 309.6V314.0h1V309.6zM266 314.0V318.3h1V314.0zM270 307.0V310.1h1V307.0zM273 304.9V306.1h1V304.9zM274 306.1V313.4h1V306.1zM277 312.6V320.8h1V312.6zM280 312.7V313.7h1V312.7zM281 313.7V315.9h1V313.7zM284 301.7V303.7h1V301.7zM289 285.2V287.5h1V285.2zM290 287.5V291.4h1V287.5zM291 291.4V298.2h1V291.4zM293 297.4V303.2h1V297.4zM294 303.2V306.9h1V303.2zM297 303.7V304.7h1V303.7zM298 304.6V306.5h1V304.6zM299 306.2V307.2h1V306.2zM303 302.5V303.5h1V302.5zM304 302.9V303.9h1V302.9zM305 303.8V305.6h1V303.8zM307 301.0V302.8h1V301.0zM317 278.1V280.3h1V278.1zM319 279.2V284.4h1V279.2zM321 276.4V278.5h1V276.4zM322 278.5V281.3h1V278.5zM329 275.9V280.3h1V275.9zM332 277.0V281.9h1V277.0zM334 279.4V280.4h1V279.4zM335 279.8V280.8h1V279.8zM336 280.5V281.7h1V280.5zM338 281.7V283.1h1V281.7zM339 282.7V283.7h1V282.7zM340 283.3V286.9h1V283.3zM341 286.9V294.6h1V286.9zM343 290.8V302.3h1V290.8zM344 302.2V303.2h1V302.2zM345 303.1V305.1h1V303.1zM346 304.6V305.6h1V304.6zM347 305.1V315.2h1V305.1zM348 315.2V319.3h1V315.2zM351 314.0V319.0h1V314.0zM353 314.0V315.0h1V314.0zM355 313.0V316.0h1V313.0zM359 314.1V318.1h1V314.1zM365 313.0V315.2h1V313.0zM370 301.4V302.4h1V301.4zM372 299.8V306.3h1V299.8zM373 306.3V308.7h1V306.3zM378 281.5V283.8h1V281.5zM379 283.8V308.1h1V283.8zM380 308.1V317.6h1V308.1zM383 314.5V319.9h1V314.5zM384 319.9V323.2h1V319.9zM389 308.0V309.0h1V308.0zM390 308.5V316.0h1V308.5zM394 309.3V311.4h1V309.3zM396 308.3V312.5h1V308.3zM397 312.5V316.8h1V312.5zM398 316.4V317.4h1V316.4zM401 315.2V318.5h1V315.2zM402 318.5V322.3h1V318.5zM403 322.3V324.5h1V322.3zM404 324.5V332.6h1V324.5zM405 332.6V364.4h1V332.6zM407 357.7V358.7h1V357.7zM410 344.3V347.3h1V344.3zM413 339.1V345.6h1V339.1zM415 342.9V354.6h1V342.9zM416 354.6V357.7h1V354.6zM417 357.7V371.1h1V357.7zM419 363.9V366.1h1V363.9zM422 339.1V340.8h1V339.1zM425 328.5V340.6h1V328.5zM427 339.1V344.6h1V339.1zM429 333.2V340.8h1V333.2zM431 338.0V339.5h1V338.0zM437 310.5V312.3h1V310.5zM440 305.8V306.8h1V305.8zM443 300.4V301.4h1V300.4zM446 297.8V305.4h1V297.8zM447 305.4V309.5h1V305.4zM452 294.6V300.3h1V294.6zM453 300.3V304.4h1V300.3zM456 299.6V301.2h1V299.6zM457 301.2V303.8h1V301.2zM459 295.7V301.1h1V295.7zM463 298.1V306.2h1V298.1zM465 302.8V303.8h1V302.8zM467 300.4V304.7h1V300.4zM471 298.0V299.7h1V298.0zM474 297.8V300.4h1V297.8zM476 298.2V300.3h1V298.2zM478 297.9V299.3h1V297.9zM479 299.3V301.6h1V299.3zM484 296.6V298.2h1V296.6zM487 295.2V298.1h1V295.2zM490 296.0V297.3h1V296.0zM491 297.3V299.6h1V297.3zM492 299.1V300.1h1V299.1zM493 299.6V300.8h1V299.6zM496 285.5V287.5h1V285.5zM501 277.6V278.7h1V277.6zM513 230.1V235.9h1V230.1zM515 233.0V234.0h1V233.0zM516 233.3V234.3h1V233.3zM518 232.3V238.9h1V232.3zM519 238.7V239.7h1V238.7zM527 219.3V223.4h1V219.3zM530 218.7V220.0h1V218.7zM531 220.0V222.0h1V220.0zM532 221.7V222.7h1V221.7zM535 220.2V224.5h1V220.2zM536 224.3V225.3h1V224.3zM537 225.0V229.1h1V225.0zM539 223.7V228.9h1V223.7zM540 228.9V232.5h1V228.9zM545 224.5V226.5h1V224.5zM549 219.0V222.0h1V219.0zM550 222.0V226.1h1V222.0zM552 224.7V226.8h1V224.7zM553 226.8V228.0h1V226.8zM556 225.6V228.7h1V225.6zM557 228.7V230.7h1V228.7zM565 211.5V214.2h1V211.5zM569 203.8V205.3h1V203.8zM572 202.4V204.8h1V202.4zM573 204.8V209.1h1V204.8zM574 209.0V210.0h1V209.0zM575 209.9V211.5h1V209.9zM576 211.1V212.1h1V211.1zM578 210.4V213.9h1V210.4zM579 213.9V214.9h1V213.9zM581 213.0V214.0h1V213.0zM582 213.6V217.3h1V213.6zM585 214.7V218.2h1V214.7zM587 217.0V223.7h1V217.0zM591 220.8V226.7h1V220.8zM595 221.7V226.6h1V221.7zM602 207.7V209.7h1V207.7zM604 208.1V209.3h1V208.1zM616 161.8V162.8h1V161.8zM617 162.4V165.4h1V162.4zM621 161.5V162.5h1V161.5zM624 158.9V159.9h1V158.9zM626 159.4V160.4h1V159.4zM629 154.6V158.8h1V154.6zM632 154.9V155.9h1V154.9zM635 151.1V153.2h1V151.1zM636 153.2V164.6h1V153.2zM637 164.5V165.5h1V164.5zM639 160.1V165.1h1V160.1zM640 165.1V168.6h1V165.1zM644 156.6V159.6h1V156.6zM646 159.6V163.3h1V159.6zM648 162.3V165.0h1V162.3zM651 163.9V168.4h1V163.9zM653 163.2V168.5h1V163.2zM655 164.5V168.8h1V164.5zM662 157.2V159.3h1V157.2zM664 157.7V158.7h1V157.7zM665 158.3V163.2h1V158.3zM667 161.4V164.6h1V161.4zM668 164.6V166.5h1V164.6zM671 163.4V164.4h1V163.4zM672 163.8V164.8h1V163.8zM676 157.4V159.5h1V157.4zM680 152.6V163.1h1V152.6zM681 163.1V165.3h1V163.1zM684 155.6V156.6h1V155.6zM690 141.0V142.3h1V141.0zM692 138.5V139.5h1V138.5zM695 133.2V134.5h1V133.2zM702 109.7V111.0h1V109.7zM703 111.0V113.3h1V111.0zM704 113.2V114.2h1V113.2zM706 111.1V117.2h1V111.1zM708 117.2V124.3h1V117.2zM709 124.2V125.2h1V124.2zM710 125.2V129.1h1V125.2zM713 125.2V128.2h1V125.2zM714 128.2V130.7h1V128.2z" fill="#f23645"/>
</g>
<g font-family="Liberation Sans, sans-serif" font-size="10" fill="#b6b9c2" stroke="#b6b9c2" stroke-width="0.2">
<text x="1013.2" y="39.9">124,000.00</text>
<text x="1013.2" y="86.1">116,000.00</text>
<text x="1013.2" y="168.5">103,000.00</text>
<text x="1013.2" y="195.9">99,000.00</text>
<text x="1013.2" y="224.5">95,000.00</text>
<text x="1013.2" y="254.3">91,000.00</text>
<text x="1013.2" y="285.4">87,000.00</text>
<text x="1013.2" y="318.0">83,000.00</text>
<text x="1013.2" y="343.5">80,000.00</text>
<text x="1013.2" y="370.0">77,000.00</text>
<text x="1013.2" y="397.5">74,000.00</text>
</g>
<rect x="1006.7" y="118.1" width="61.5" height="25.9" rx="1" fill="#f23645"/>
<text x="1013.4" y="128.3" font-family="Liberation Sans, sans-serif" font-size="10" font-weight="700" fill="#ffffff">109,148.54</text>
<text x="1012.5" y="139.6" font-family="Liberation Sans, sans-serif" font-size="10" fill="#ffe8ea">45:13</text>
<rect x="1006.7" y="164.7" width="61.5" height="14.4" rx="1" fill="#4caf50"/>
<text x="1013.2" y="175.4" font-family="Liberation Sans, sans-serif" font-size="10" fill="#ffffff" stroke="#ffffff" stroke-width="0.2">102,056.75</text>
<g font-family="Liberation Sans, sans-serif" font-size="10" fill="#c2c5cc" stroke="#c2c5cc" stroke-width="0.3" text-anchor="middle">
<text x="163.9" y="416.3">Mar</text>
<text x="366.6" y="416.3">Apr</text>
<text x="561.8" y="416.3">May</text>
<text x="764.5" y="416.3">Jun</text>
<text x="959.5" y="416.3">Jul</text>
</g>
<g transform="translate(715.4,389.9)">
<circle r="8.2" fill="#140d16" stroke="#b44fd0" stroke-width="1.3"/>
<path d="M1.6,-3.6 L-2.2,0.4 L1.6,0.4 L-2.0,4.2" fill="none" stroke="#b44fd0" stroke-width="1.3" stroke-linejoin="miter"/>
<circle cx="6" cy="-5.7" r="3.4" fill="#131722"/>
<circle cx="6" cy="-5.7" r="2.6" fill="#f23645"/>
</g>
<text x="8" y="15.85" font-family="Liberation Sans, sans-serif" font-size="10" letter-spacing="0" fill="#dcdcde" stroke="#dcdcde" stroke-width="0.4">Tahanik128 published on TradingView.com, May 24, 2025 15:14 UTC</text>
<g fill="#e2e4e6">
<path d="M8.3,434.4 H15.05 V442.9 H11.9 V437.6 H8.3 Z"/>
<circle cx="17.5" cy="436.2" r="1.75"/>
<path d="M20.3,434.4 H24.6 L22.3,442.9 H18.0 Z"/>
</g>
<text x="27.8" y="442.7" font-family="Liberation Sans, sans-serif" font-size="11" letter-spacing="-0.08" fill="#d8dadd" stroke="#d8dadd" stroke-width="0.3">TradingView</text>
</svg>
</body></html>
